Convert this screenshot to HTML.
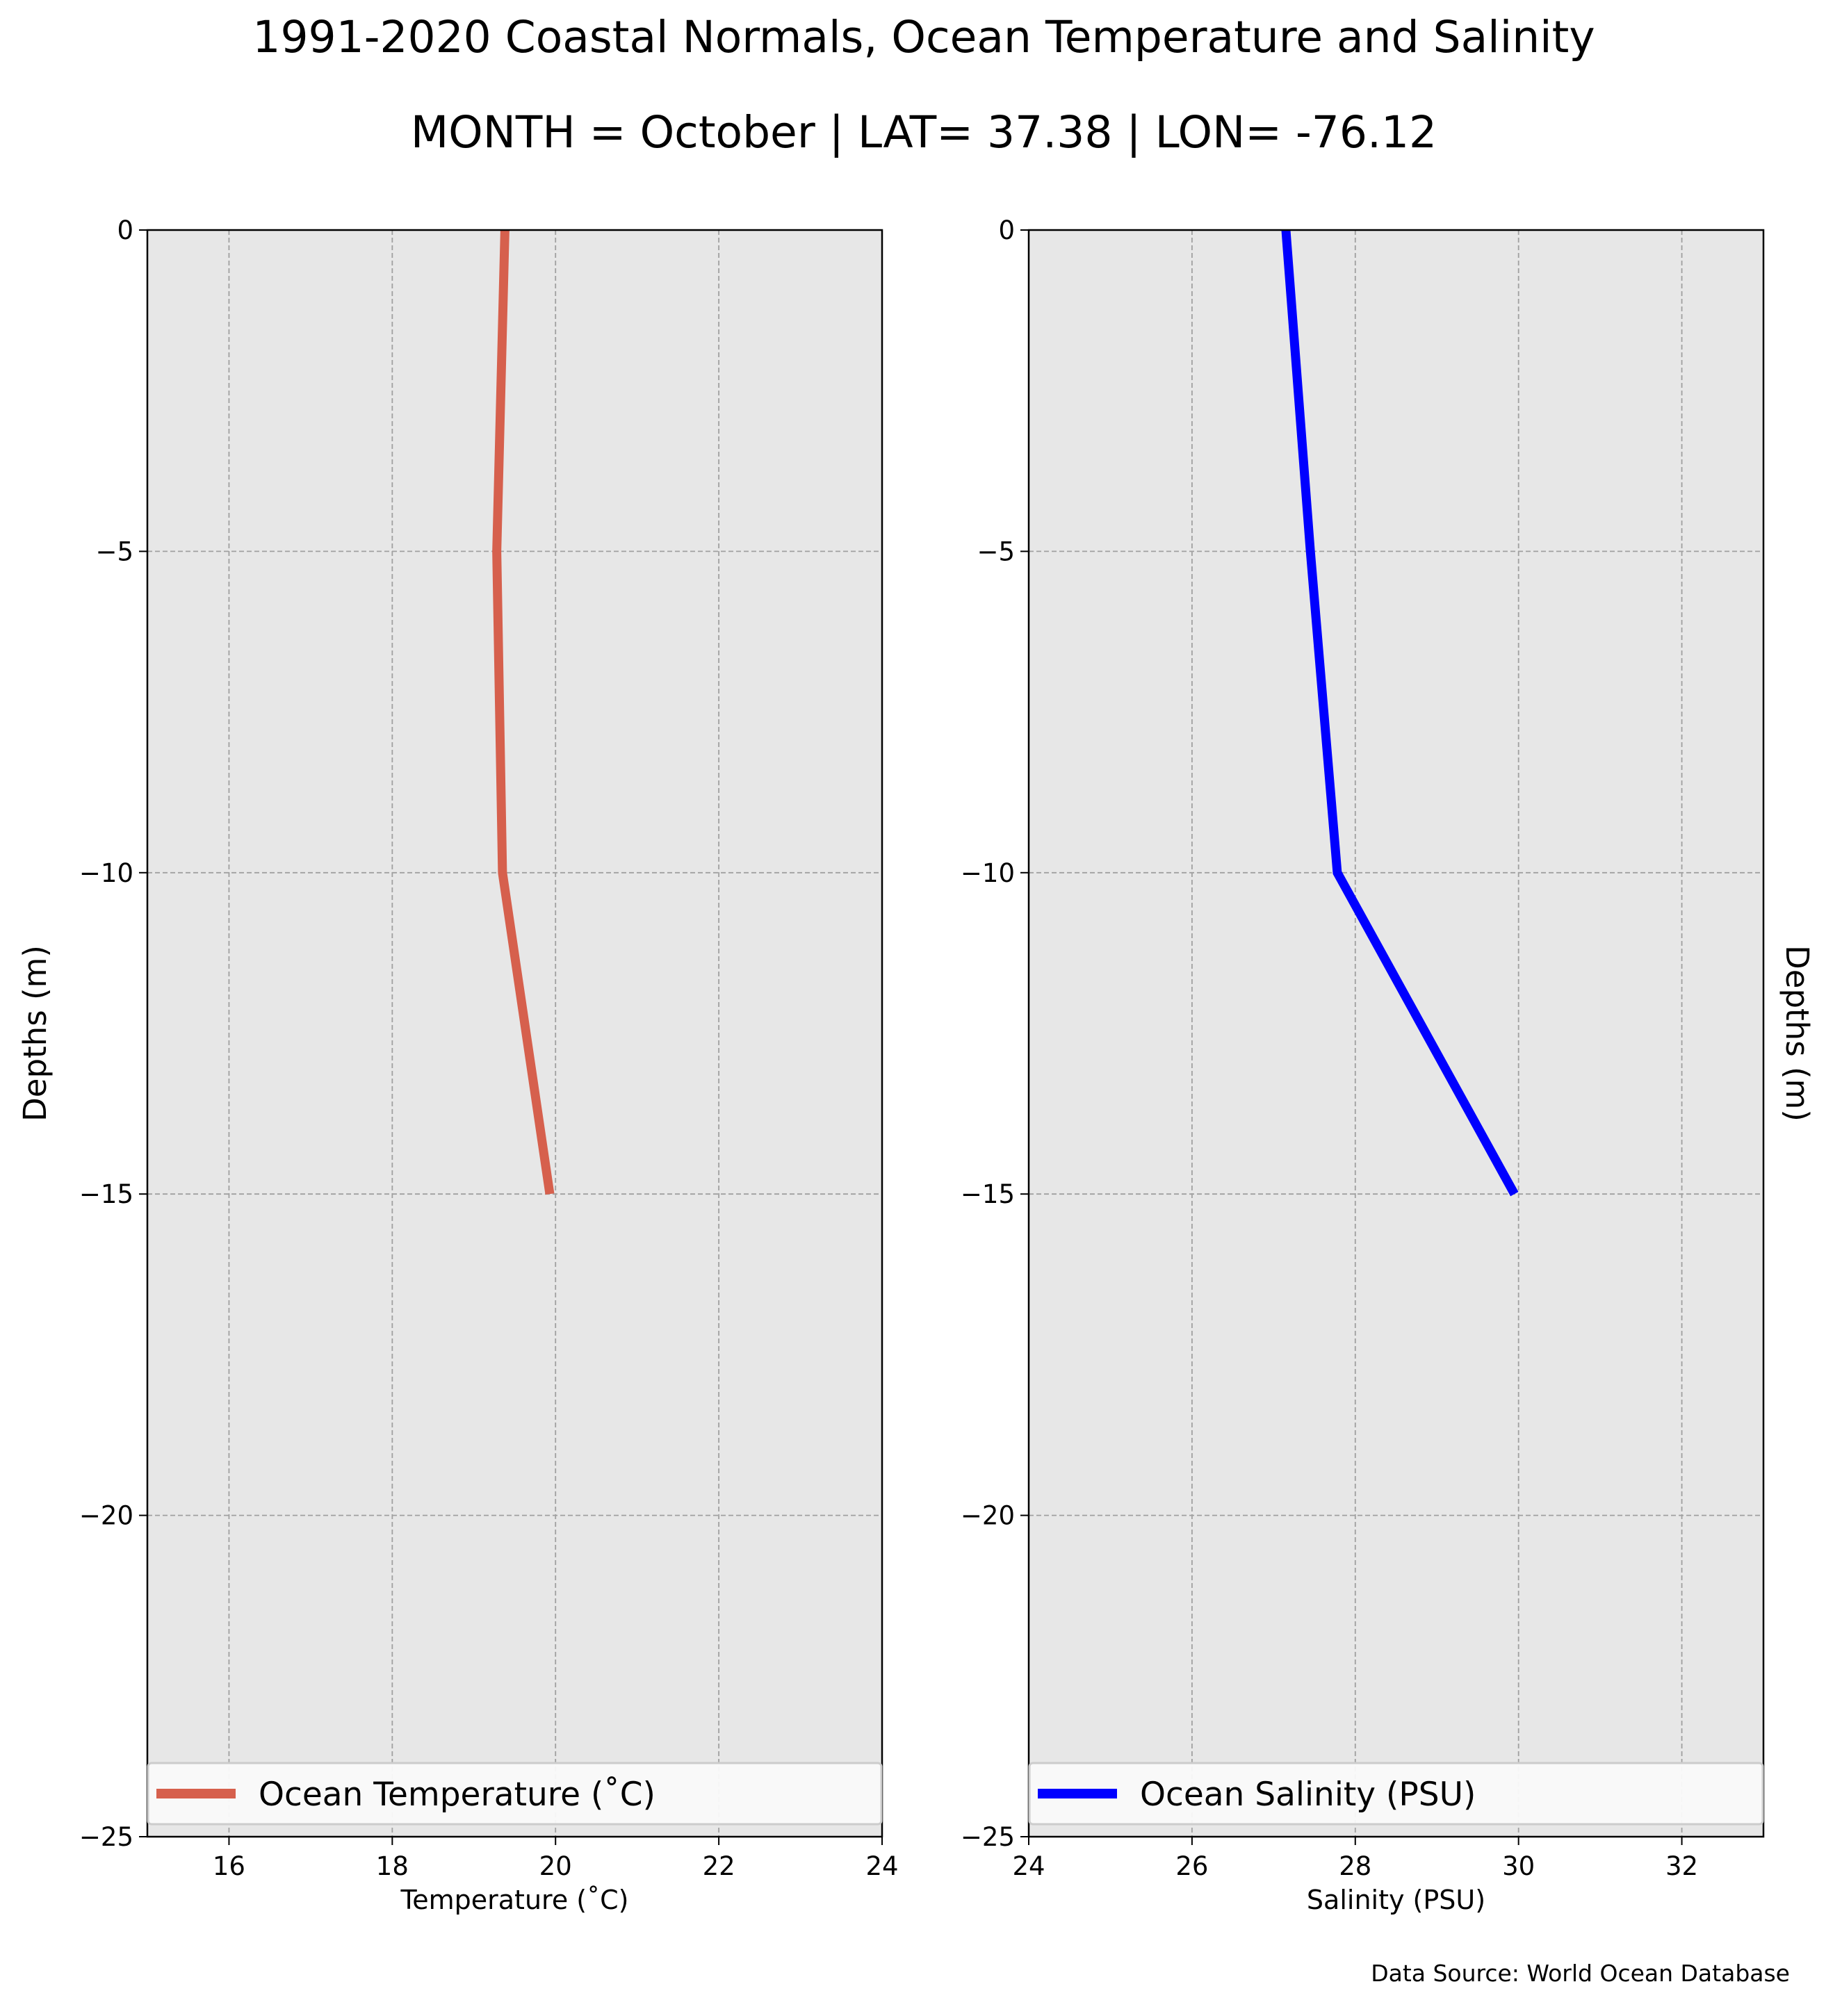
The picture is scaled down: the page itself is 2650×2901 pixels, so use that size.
<!DOCTYPE html>
<html><head><meta charset="utf-8"><style>
html,body{margin:0;padding:0;background:#fff;}
svg{display:block;font-family:"DejaVu Sans","Liberation Sans",sans-serif;}
</style></head><body>
<svg id="fig" width="2650" height="2901" viewBox="0 0 2650 2901">
<text x="1329" y="75" font-size="63" text-anchor="middle">1991-2020 Coastal Normals, Ocean Temperature and Salinity</text>
<text x="1329" y="212" font-size="63" text-anchor="middle">MONTH = October | LAT= 37.38 | LON= -76.12</text>
<g id="p1"></g>
<g id="p2"></g>
<text x="2575" y="2851" font-size="33" text-anchor="end">Data Source: World Ocean Database</text>
</svg>
<script>
const depths = [0, -5, -10, -15];
const tempValues = [19.38, 19.28, 19.35, 19.93];
const salValues = [27.15, 27.45, 27.78, 29.95];
const yTicks = [0, -5, -10, -15, -20, -25];
const tempTicks = [16, 18, 20, 22, 24];
const salTicks = [24, 26, 28, 30, 32];
const NS = "http://www.w3.org/2000/svg";
function mk(tag, attrs, parent, txt){const e=document.createElementNS(NS,tag);for(const k in attrs)e.setAttribute(k,attrs[k]);if(txt!==undefined)e.textContent=txt;parent.appendChild(e);return e;}
const axTop=331, axBot=2643;
const yScale=v=>axTop+(0-v)/25*(axBot-axTop);
function panel(g, left, xmin, xmax, xticks, vals, color, xlabel, legendText, ylabSide){
  const right=left+1057;
  const xs=v=>left+(v-xmin)/(xmax-xmin)*(right-left);
  const bg=mk('rect',{x:left,y:axTop,width:right-left,height:axBot-axTop,fill:'#e7e7e7'},g);
  
  
  xticks.forEach(t=>{
    const gl=mk('line',{x1:xs(t),x2:xs(t),y1:axTop,y2:axBot,stroke:'#a0a0a0','stroke-width':1.8,'stroke-dasharray':'7,4'},g);
    
    
    mk('line',{x1:xs(t),x2:xs(t),y1:axBot,y2:axBot+12,stroke:'#000','stroke-width':2},g);
    const tl=mk('text',{x:xs(t),y:axBot+55,'font-size':37,'text-anchor':'middle'},g,String(t));
    
    
  });
  yTicks.forEach(t=>{
    const y=yScale(t);
    if(t!==0&&t!==-25){
      const gl=mk('line',{x1:left,x2:right,y1:y,y2:y,stroke:'#a0a0a0','stroke-width':1.8,'stroke-dasharray':'7,4'},g);
      
      
    }
    mk('line',{x1:left-12,x2:left,y1:y,y2:y,stroke:'#000','stroke-width':2},g);
    const tl=mk('text',{x:left-20,y:y+13,'font-size':37,'text-anchor':'end'},g,t<0?'\u2212'+Math.abs(t):String(t));
    
    
  });
  const pts=vals.map((v,i)=>xs(v)+','+yScale(depths[i])).join(' ');
  const pl=mk('polyline',{points:pts,fill:'none',stroke:color,'stroke-width':13},g);
  
  
  const fr=mk('rect',{x:left,y:axTop,width:right-left,height:axBot-axTop,fill:'none',stroke:'#000','stroke-width':2.5},g);
  
  
  const lg=mk('g',{},g);
  
  
  mk('rect',{x:left+1,y:2537,width:1055,height:88,rx:5,fill:'#fafafa','fill-opacity':0.95,stroke:'#cccccc','stroke-width':3},lg);
  mk('line',{x1:left+13,x2:left+127,y1:2581,y2:2581,stroke:color,'stroke-width':14},lg);
  mk('text',{x:left+160,y:2598,'font-size':47},lg,legendText);
  const xl=mk('text',{x:(left+right)/2,y:2747,'font-size':38,'text-anchor':'middle'},g,xlabel);
  
  
  const cy=(axTop+axBot)/2;
  let yl;
  if(ylabSide==='left') yl=mk('text',{x:0,y:0,'font-size':45,'text-anchor':'middle',transform:`translate(66,${cy}) rotate(-90)`},g,'Depths (m)');
  else yl=mk('text',{x:0,y:0,'font-size':45,'text-anchor':'middle',transform:`translate(2570,${cy}) rotate(90)`},g,'Depths (m)');
  
  
}
panel(document.getElementById('p1'),212,15,24,tempTicks,tempValues,'#d6604d','Temperature (\u02DAC)','Ocean Temperature (\u02DAC)','left');
panel(document.getElementById('p2'),1480,24,33,salTicks,salValues,'#0000ff','Salinity (PSU)','Ocean Salinity (PSU)','right');
</script>
</body></html>
